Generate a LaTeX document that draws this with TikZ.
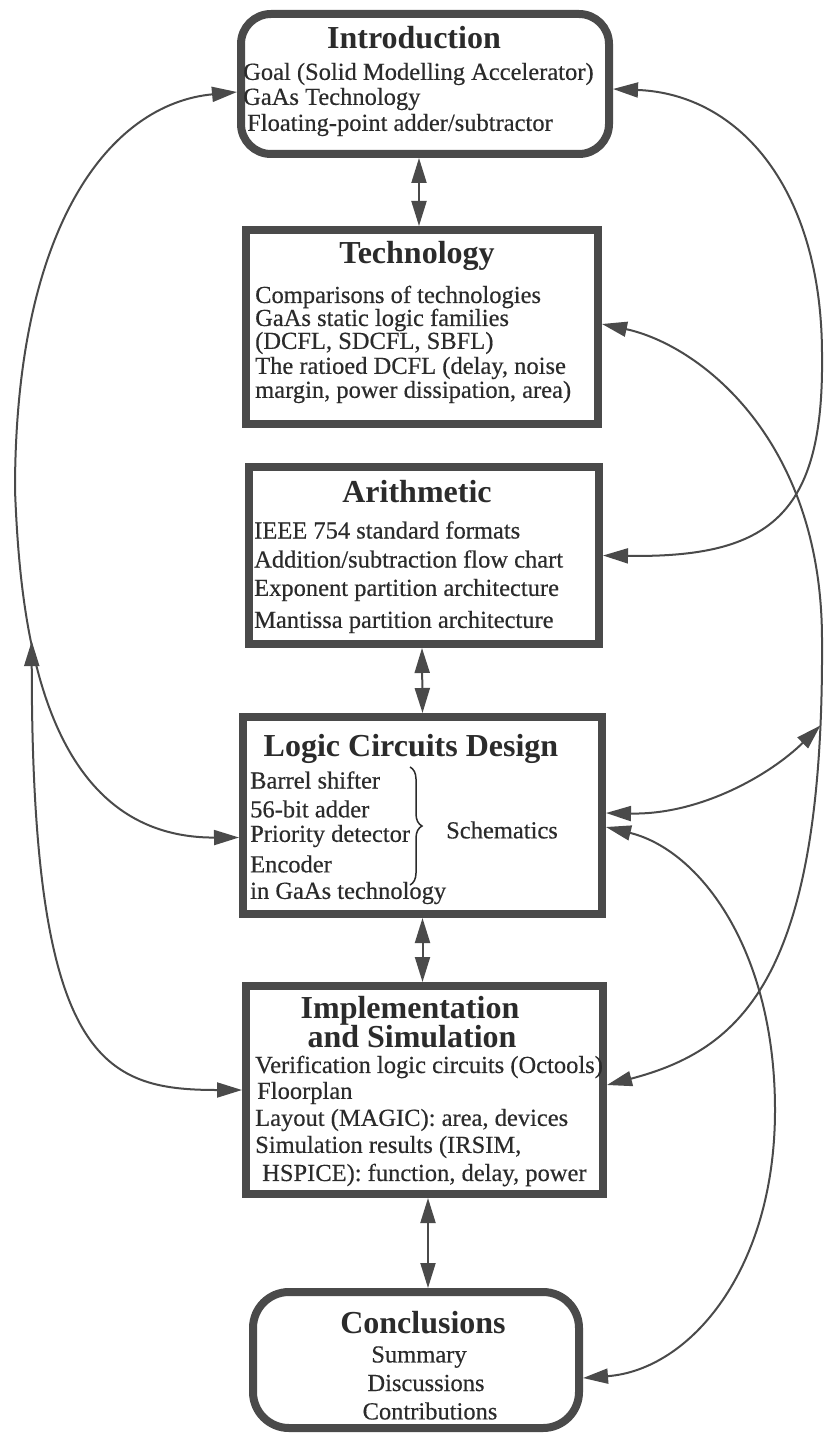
\documentclass[tikz,border=0pt]{standalone}
\usepackage{fontspec}
\setmainfont{Liberation Serif}
\newfontfamily\bodyserif{Liberation Serif}[FakeBold=0.4]
\usetikzlibrary{arrows.meta,decorations.pathreplacing}
\definecolor{boxgray}{HTML}{4A4A4A}
\definecolor{inkgray}{HTML}{2B2B2B}
\definecolor{linkgray}{HTML}{4A4A4A}

\begin{document}
\begin{tikzpicture}[x=1pt,y=-1pt,
  panel/.style={draw=boxgray, line width=8pt, fill=white, inner sep=0pt},
  roundpanel/.style={panel, rounded corners=30pt},
  heading/.style={font=\fontsize{32}{34}\selectfont\bfseries, text=inkgray, inner sep=0pt},
  entry/.style={font=\bodyserif\fontsize{24.5}{26}\selectfont, text=inkgray, inner sep=0pt, anchor=west},
  centred/.style={font=\bodyserif\fontsize{24.5}{26}\selectfont, text=inkgray, inner sep=0pt},
  link/.style={draw=linkgray, line width=2pt,
    {Triangle[length=25pt,width=15pt]}-{Triangle[length=25pt,width=15pt]}},
]
\useasboundingbox[fill=white] (0,0) rectangle (823,1434);

% ---- chapter boxes ----
\node[roundpanel, minimum width=368pt, minimum height=140pt] (intro) at (425,84) {};
\node[panel, minimum width=352pt, minimum height=194pt] (tech) at (422,327) {};
\node[panel, minimum width=350pt, minimum height=177pt] (arith) at (424,555.5) {};
\node[panel, minimum width=359pt, minimum height=197pt] (logic) at (422.5,815.5) {};
\node[panel, minimum width=357pt, minimum height=208pt] (impl) at (424.5,1090) {};
\node[roundpanel, rounded corners=36pt, minimum width=326pt, minimum height=136pt] (concl) at (416,1360) {};

% ---- Introduction ----
\node[heading] (introT) at (414,38) {Introduction};
\node[entry] (intro1) at (243,74) {Goal (Solid Modelling Accelerator)};
\node[entry] (intro2) at (243,99) {GaAs Technology};
\node[entry] (intro3) at (247,125) {Floating-point adder/subtractor};

% ---- Technology ----
\node[heading] (techT) at (417,256) {Technology};
\node[entry] (tech1) at (255,297) {Comparisons of technologies};
\node[entry] (tech2) at (255,320) {GaAs static logic families};
\node[entry] (tech3) at (255,343) {(DCFL, SDCFL, SBFL)};
\node[entry] (tech4) at (255,368) {The ratioed DCFL (delay, noise};
\node[entry] (tech5) at (255,392) {margin, power dissipation, area)};

% ---- Arithmetic ----
\node[heading] (arithT) at (417,492) {Arithmetic};
\node[entry] (arith1) at (254,530) {IEEE 754 standard formats};
\node[entry] (arith2) at (254,559) {Addition/subtraction flow chart};
\node[entry] (arith3) at (254,590) {Exponent partition architecture};
\node[entry] (arith4) at (254,622) {Mantissa partition architecture};

% ---- Logic Circuits Design ----
\node[heading] (logicT) at (411,749) {Logic Circuits Design};
\node[entry] (logic1) at (250,780) {Barrel shifter};
\node[entry] (logic2) at (250,809) {56-bit adder};
\node[entry] (logic3) at (250,836) {Priority detector};
\node[entry] (logic4) at (250,864) {Encoder};
\node[entry] (logic5) at (250,893) {in GaAs technology};
\draw[draw=inkgray, line width=1.5pt, decorate, decoration={brace, amplitude=12pt}]
  (410,767) -- (410,885);
\node[centred] (schem) at (502,830) {Schematics};

% ---- Implementation and Simulation ----
\node[heading] (implT1) at (410,1011) {Implementation};
\node[heading] (implT2) at (412,1037) {and Simulation};
\node[entry] (impl1) at (255,1067) {Verification logic circuits (Octools)};
\node[entry] (impl2) at (257,1093) {Floorplan};
\node[entry] (impl3) at (255,1120) {Layout (MAGIC): area, devices};
\node[entry] (impl4) at (255,1147) {Simulation results (IRSIM,};
\node[entry] (impl5) at (262,1175) {HSPICE): function, delay, power};

% ---- Conclusions ----
\node[heading] (conclT) at (423,1323) {Conclusions};
\node[centred] (concl1) at (419,1357) {Summary};
\node[centred] (concl2) at (426,1383) {Discussions};
\node[centred] (concl3) at (430,1411) {Contributions};

% ---- straight links down the middle ----
\draw[link] ([xshift=-6pt]intro.south) -- ([xshift=-3pt]tech.north);
\draw[link] ([xshift=-2pt]arith.south) -- (logic.north);
\draw[link] (logic.south) -- ([xshift=-2pt]impl.north);
\draw[link] ([xshift=3.5pt]impl.south) -- ([xshift=12pt]concl.north);

% ---- feedback loops, left side ----
\draw[link] ([yshift=-8pt]intro.west) .. controls (110,104) and (15,225) .. (15,490)
  .. controls (20,620) and (40,838) .. ([yshift=-22pt]logic.west) coordinate[pos=0.34] (jl);
\draw[link] (jl) .. controls +(0,420) and +(-140,0) .. (impl.west);

% ---- feedback loops, right side ----
\draw[link] ([yshift=-5pt]intro.east) .. controls (740,94) and (822,190) .. (822,355)
  .. controls (824,515) and (770,558) .. (arith.east);
\draw[link] ([yshift=3pt]tech.east) .. controls (700,345) and (822,440) .. (822,640)
  .. controls (824,980) and (740,1050) .. ([yshift=5pt]impl.east) coordinate[pos=0.09] (jr);
\draw[link] ([yshift=2.5pt]logic.east) .. controls (700,815) and (770,775) .. (jr);
\draw[link] ([yshift=-11.5pt]logic.east) .. controls (700,850) and (775,950) .. (775,1110)
  .. controls (775,1270) and (690,1370) .. ([yshift=-18pt]concl.east);
\end{tikzpicture}
\end{document}
